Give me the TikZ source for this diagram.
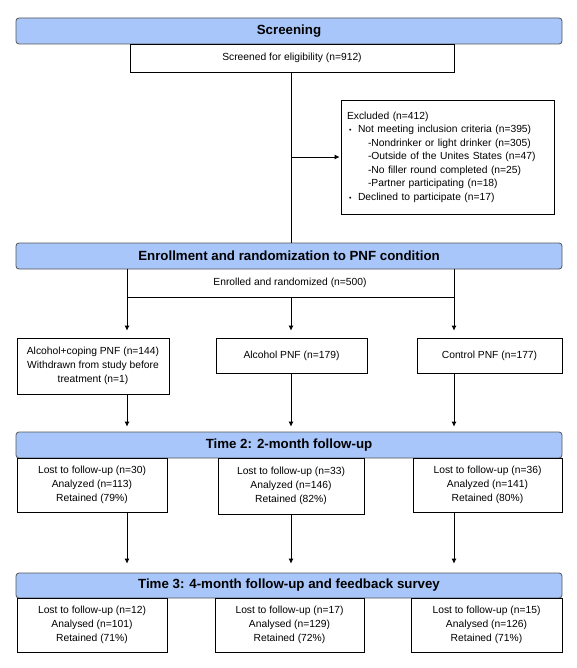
\documentclass[tikz,border=0pt]{standalone}
\usepackage{fontspec}
\setmainfont{Liberation Sans}
\usetikzlibrary{arrows.meta}
\definecolor{bannerblue}{RGB}{168,198,250}
\definecolor{bannerline}{RGB}{85,85,85}
\newcommand{\blt}{\makebox[11pt][l]{\hspace{2pt}{\fontsize{7}{7}\selectfont •}}}
\begin{document}
\begin{tikzpicture}[x=1pt,y=-1pt,
  banner/.style={draw=bannerline, fill=bannerblue, rounded corners=3pt, line width=0.8pt,
    minimum width=546pt, minimum height=26pt, inner sep=0pt,
    font=\fontsize{13.3}{16}\selectfont\bfseries},
  box/.style={draw=black, fill=white, line width=0.8pt, inner sep=0pt, align=center,
    font=\fontsize{10.3}{14}\selectfont},
  plain/.style={inner sep=0pt, font=\fontsize{10.3}{14}\selectfont},
  conn/.style={draw=black, line width=0.8pt},
  arr/.style={conn, -{Latex[length=5pt,width=5pt]}}
]
\useasboundingbox (0,0) rectangle (577,668);
\fill[white] (0,0) rectangle (577,668);

% column coordinates
\coordinate (colA) at (127,0);
\coordinate (colM) at (291,0);
\coordinate (colC) at (454,0);

% Screening
\node[banner] (scr) at (289,31) {Screening};
\node[box, minimum width=324pt, minimum height=28pt] (elig) at (292,58) {Screened for eligibility (n=912)};

\node[box, minimum width=213pt, minimum height=114pt, text width=201pt, inner xsep=6pt, align=left,
  font=\fontsize{10.3}{13.5}\selectfont] (excl) at (447.5,157)
  {Excluded (n=412)\\
   \blt Not meeting inclusion criteria (n=395)\\
   \hspace*{21pt}-Nondrinker or light drinker (n=305)\\
   \hspace*{21pt}-Outside of the Unites States (n=47)\\
   \hspace*{21pt}-No filler round completed (n=25)\\
   \hspace*{21pt}-Partner participating (n=18)\\
   \blt Declined to participate (n=17)};

% Enrollment
\node[banner] (enr) at (289,256) {Enrollment and randomization to PNF condition};
\node[plain] (enrtxt) at (290,283) {Enrolled and randomized (n=500)};

\coordinate (split) at (291,297);

\node[box, minimum width=152pt, minimum height=56pt] (a1) at (93,366)
  {Alcohol+coping PNF (n=144)\\Withdrawn from study before\\treatment (n=1)};
\node[box, minimum width=151pt, minimum height=35pt] (a2) at (291.5,355.5) {Alcohol PNF (n=179)};
\node[box, minimum width=145pt, minimum height=35pt] (a3) at (489.5,355.5) {Control PNF (n=177)};

% Time 2
\node[banner] (t2) at (289,445) {Time 2: 2-month follow-up};
\node[box, minimum width=150pt, minimum height=54pt] (b1) at (92,485)
  {Lost to follow-up (n=30)\\Analyzed (n=113)\\Retained (79\%)};
\node[box, minimum width=146pt, minimum height=56pt] (b2) at (291,486)
  {Lost to follow-up (n=33)\\Analyzed (n=146)\\Retained (82\%)};
\node[box, minimum width=149pt, minimum height=54pt] (b3) at (487.5,485)
  {Lost to follow-up (n=36)\\Analyzed (n=141)\\Retained (80\%)};

% Time 3
\node[banner, minimum height=25pt] (t3) at (289,585.5) {Time 3: 4-month follow-up and feedback survey};
\node[box, minimum width=150pt, minimum height=54pt] (c1) at (92,625)
  {Lost to follow-up (n=12)\\Analysed (n=101)\\Retained (71\%)};
\node[box, minimum width=149pt, minimum height=54pt] (c2) at (289.5,625)
  {Lost to follow-up (n=17)\\Analysed (n=129)\\Retained (72\%)};
\node[box, minimum width=151pt, minimum height=54pt] (c3) at (486.5,625)
  {Lost to follow-up (n=15)\\Analysed (n=126)\\Retained (71\%)};

% connectors: screening
\draw[conn] (elig.south -| colM) -- (enr.north -| colM);
\draw[arr, shorten >=1pt] (colM |- excl.west) -- (excl.west);

% enrollment split
\draw[arr, shorten >=7pt] (enr.south -| colA) -- (a1.north -| colA);
\draw[arr, shorten >=7pt] (enr.south -| colC) -- (a3.north -| colC);
\draw[conn] (split -| colA) -- (split -| colC);
\draw[arr, shorten >=7pt] (split) -- (a2.north -| colM);

% to time 2
\draw[arr, shorten >=5pt] (a1.south -| colA) -- (t2.north -| colA);
\draw[arr, shorten >=5pt] (a2.south -| colM) -- (t2.north -| colM);
\draw[arr, shorten >=5pt] (a3.south -| colC) -- (t2.north -| colC);

% to time 3
\draw[arr, shorten >=9pt] (b1.south -| colA) -- (t3.north -| colA);
\draw[arr, shorten >=9pt] (b2.south -| colM) -- (t3.north -| colM);
\draw[arr, shorten >=9pt] (b3.south -| colC) -- (t3.north -| colC);
\end{tikzpicture}
\end{document}
